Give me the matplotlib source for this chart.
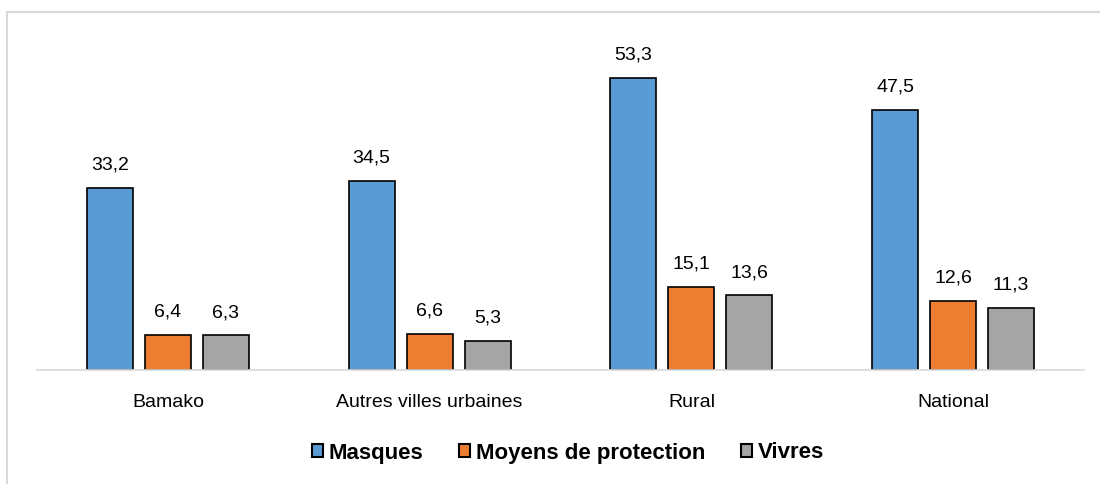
import matplotlib.pyplot as plt
import numpy as np
from matplotlib.patches import Rectangle

plt.rcParams['font.family'] = ['Liberation Sans Narrow', 'Liberation Sans', 'DejaVu Sans']

categories = ['Bamako', 'Autres villes urbaines', 'Rural', 'National']
series = ['Masques', 'Moyens de protection', 'Vivres']
masques = [33.2, 34.5, 53.3, 47.5]
moyens = [6.4, 6.6, 15.1, 12.6]
vivres = [6.3, 5.3, 13.6, 11.3]
colors = ['#5B9BD5', '#ED7D31', '#A5A5A5']

fig = plt.figure(figsize=(11, 4.84), dpi=100)
ax = fig.add_axes([37/1100, 1 - 370/484, 1047/1100, 329/484])

x = np.arange(len(categories))
width = 0.176
step = 0.2216
for i, (vals, name) in enumerate(zip([masques, moyens, vivres], series)):
    pos = x + (i - 1) * step
    bars = ax.bar(pos, vals, width, color=colors[i], edgecolor='black', linewidth=1.2, label=name)
    for b, v in zip(bars, vals):
        ax.text(b.get_x() + b.get_width() / 2, v + 2.6, f'{v:.1f}'.replace('.', ','),
                ha='center', va='bottom', fontsize=14)

ax.set_xlim(-0.5, 3.5)
ax.set_ylim(0, 60)
ax.set_yticks([])
ax.set_xticks(x)
ax.set_xticklabels(categories, fontsize=14)
ax.tick_params(axis='x', length=0, pad=17)
for s in ['top', 'right', 'left']:
    ax.spines[s].set_visible(False)
ax.spines['bottom'].set_color('#D9D9D9')
ax.spines['bottom'].set_linewidth(1.2)

leg = ax.legend(loc='center', ncol=3, frameon=False,
                prop={'weight': 'bold', 'size': 16}, handlelength=0.5, handleheight=0.5,
                columnspacing=1.6, handletextpad=0.25)
leg.set_bbox_to_anchor((568/1100, 1 - 453/484), transform=fig.transFigure)
for h in leg.legend_handles:
    h.set_linewidth(1.5)

fig.patches.append(Rectangle((7/1100, -0.1), 1.2, 1 - 12/484 + 0.1, transform=fig.transFigure,
                             fill=False, edgecolor='#D9D9D9', linewidth=1.5))

fig.savefig('out.png', dpi=100)
